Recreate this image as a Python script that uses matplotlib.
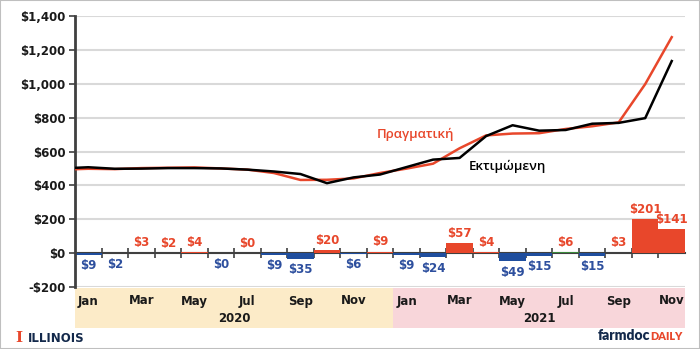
import matplotlib
matplotlib.use('Agg')
import matplotlib.pyplot as plt
import matplotlib.transforms as mtransforms
from matplotlib.patches import Rectangle

# ---------------- data ----------------
months = ['Jan', 'Feb', 'Mar', 'Apr', 'May', 'Jun', 'Jul', 'Aug', 'Sep', 'Oct', 'Nov', 'Dec',
          'Jan', 'Feb', 'Mar', 'Apr', 'May', 'Jun', 'Jul', 'Aug', 'Sep', 'Oct', 'Nov']
years = ['2020', '2021']
months_per_year = [12, 11]

estimated = [507, 498, 499, 502, 502, 500, 493, 482, 467, 413, 447, 464,
             508, 552, 562, 691, 755, 723, 727, 764, 769, 797, 1134]
actual = [498, 496, 502, 504, 506, 500, 493, 473, 432, 433, 441, 473,
          499, 528, 619, 695, 706, 708, 733, 749, 772, 998, 1275]
difference = [-9, -2, 3, 2, 4, -0.4, 0.4, -9, -35, 20, -6, 9,
              -9, -24, 57, 4, -49, -15, 6, -15, 3, 201, 141]
# value just before the first month (line enters from the axis)
lead_estimated = 500
lead_actual = 493

y_ticks = [-200, 0, 200, 400, 600, 800, 1000, 1200, 1400]
y_tick_labels = ['-$200', '$0', '$200', '$400', '$600', '$800', '$1,000', '$1,200', '$1,400']

label_actual = 'Πραγματική'
label_estimated = 'Εκτιμώμενη'

# ---------------- style ----------------
RED = '#E8472B'
BLUE = '#1F4E9E'
BLUE_TXT = '#2D4F9E'
GREEN = '#3A8A3A'
AXIS = '#404040'
NAVY = '#13294B'

W, H = 700, 349
fig = plt.figure(figsize=(W / 100, H / 100), dpi=100)
fig.patch.set_facecolor('white')
ax = fig.add_axes([75 / W, 1 - 287 / H, 610 / W, 271 / H])

n = len(months)
x = list(range(n))

ax.set_xlim(-0.5, n - 0.5)
ax.set_ylim(-200, 1400)

# grid
ax.set_yticks(y_ticks)
ax.set_yticklabels(y_tick_labels, fontsize=8.5, fontweight='bold', color='#1a1a1a')
ax.yaxis.grid(True, color='#D9D9D9', lw=1.5)
ax.set_axisbelow(True)

# bars
bar_colors = []
for i, v in enumerate(difference):
    if i == 18:
        bar_colors.append(GREEN)
    else:
        bar_colors.append(RED if v > 0 else BLUE)
ax.bar(x, difference, width=1.0, color=bar_colors, zorder=2)

# lines
ax.plot([-1] + x, [lead_actual] + actual, color=RED, lw=1.8, zorder=3, clip_on=True)
ax.plot([-1] + x, [lead_estimated] + estimated, color='black', lw=1.8, zorder=4, clip_on=True)

# bar labels
for i, v in enumerate(difference):
    txt = '$%d' % abs(round(v))
    if v > 0:
        ax.annotate(txt, (i, v), xytext=(0, 7.0), textcoords='offset points',
                    ha='center', va='center', fontsize=8.5, fontweight='bold', color=RED, zorder=5)
    else:
        ax.annotate(txt, (i, v), xytext=(0, -7.8), textcoords='offset points',
                    ha='center', va='center', fontsize=8.5, fontweight='bold', color=BLUE_TXT, zorder=5)

# series labels
ax.text(12.32, 698, label_actual, color=RED, fontsize=9.5, fontweight='semibold',
        family=['Open Sans', 'DejaVu Sans'], ha='center', va='center')
ax.text(15.79, 509, label_estimated, color='black', fontsize=9.5, fontweight='semibold',
        family=['Open Sans', 'DejaVu Sans'], ha='center', va='center')

# spines
for s in ['top', 'right']:
    ax.spines[s].set_visible(False)
ax.spines['left'].set_color(AXIS)
ax.spines['left'].set_linewidth(2)
ax.spines['bottom'].set_position(('data', 0))
ax.spines['bottom'].set_color(AXIS)
ax.spines['bottom'].set_linewidth(1.5)
ax.spines['bottom'].set_zorder(1.5)

ax.set_xticks([i + 0.5 for i in range(n - 1)])
ax.set_xticklabels([])
ax.tick_params(axis='x', direction='inout', length=7, width=1.2, color=AXIS)
ax.tick_params(axis='y', direction='out', length=4, width=1.2, color=AXIS, pad=3)

# category bands
trans = mtransforms.blended_transform_factory(ax.transData, ax.transAxes)
band_colors = ['#FCEBC8', '#F8D6DA']
start = -0.5
ax_h = 271.0
for yr, cnt, bc in zip(years, months_per_year, band_colors):
    ax.add_patch(Rectangle((start, -1 / ax_h), cnt, -40 / ax_h, transform=trans,
                           facecolor=bc, edgecolor='none', clip_on=False, zorder=0))
    ax.text(start + cnt / 2, -31 / ax_h, yr, transform=trans, ha='center', va='center',
            fontsize=8.5, fontweight='bold', color='#1a1a1a')
    start += cnt
for i in range(0, n, 2):
    ax.text(i, -14 / ax_h, months[i], transform=trans, ha='center', va='center',
            fontsize=8.5, fontweight='bold', color='#1a1a1a')

# logos
fig.text(15 / W, 1 - 338 / H, 'I', color=RED, fontsize=11, fontweight='bold',
         family='DejaVu Serif', ha='left', va='center')
fig.text(28 / W, 1 - 338 / H, 'ILLINOIS', color=NAVY, fontsize=8.5, fontweight='bold',
         ha='left', va='center')

t2 = fig.text(683 / W, 1 - 340 / H, 'DAILY', color=RED, fontsize=7.8, fontweight='heavy',
              family=['Lato', 'DejaVu Sans'], ha='right', va='baseline')
fig.canvas.draw()
bb = t2.get_window_extent()
fig.text(bb.x0 / W, 1 - 340 / H, 'farmdoc', color=NAVY, fontsize=10, fontweight='heavy',
         family=['Lato', 'DejaVu Sans'], ha='right', va='baseline')

# border
fig.patches.append(Rectangle((0, 0), 1, 1, transform=fig.transFigure, fill=False,
                             edgecolor='#BFBFBF', lw=1.5))

fig.savefig('out.png', dpi=100)
